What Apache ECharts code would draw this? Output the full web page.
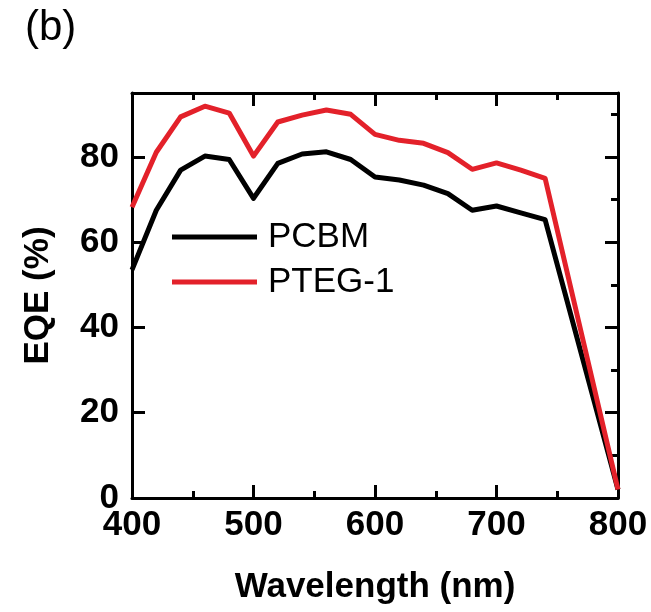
<!DOCTYPE html>
<html>
<head>
<meta charset="utf-8">
<script src="https://cdn.jsdelivr.net/npm/echarts@6/dist/echarts.min.js"></script>
<style>
  html, body { margin: 0; padding: 0; background: #fff; }
</style>
</head>
<body>
<!-- chart container, same size as the window -->
<div id="main" style="width: 651px;height:612px;"></div>
<script type="text/javascript">
    // data
    var wavelength = [400, 420, 440, 460, 480, 500, 520, 540, 560, 580, 600, 620, 640, 660, 680, 700, 720, 740, 800];
    var pcbm = [53.5, 67.5, 76.9, 80.2, 79.4, 70.3, 78.5, 80.7, 81.2, 79.4, 75.3, 74.6, 73.4, 71.4, 67.5, 68.5, 66.9, 65.3, 2];
    var pteg1 = [68.2, 81.1, 89.4, 91.9, 90.3, 80.2, 88.2, 89.8, 91.0, 90.0, 85.3, 83.9, 83.2, 81.0, 77.1, 78.6, 76.9, 75.0, 2];
    var seriesNames = ['PCBM', 'PTEG-1'];

    function pairs(xs, ys) {
        var out = [];
        for (var i = 0; i < xs.length; i++) {
            out.push([xs[i], ys[i]]);
        }
        return out;
    }

    var myChart = echarts.init(document.getElementById('main'));
    var font = '"Liberation Sans", Arial, sans-serif';
    var black = '#000';

    option = {
        animation: false,
        backgroundColor: '#fff',
        title: {
            text: '(b)',
            left: 20,
            top: 2,
            textStyle: { fontFamily: font, fontSize: 42, fontWeight: 'normal', color: black }
        },
        legend: {
            orient: 'vertical',
            left: 167,
            top: 212,
            itemWidth: 85,
            itemHeight: 5,
            itemGap: 5,
            icon: 'rect',
            data: seriesNames,
            textStyle: {
                fontFamily: font, fontSize: 35, color: black,
                lineHeight: 40, padding: [0, 0, 0, 6]
            }
        },
        grid: { left: 132, right: 33, top: 93, bottom: 114 },
        xAxis: [
            {
                type: 'value', min: 400, max: 800, interval: 100,
                name: 'Wavelength (nm)',
                nameLocation: 'middle',
                nameGap: 72,
                nameTextStyle: { fontFamily: font, fontSize: 35, fontWeight: 'bold', color: black },
                axisLine: { onZero: false, lineStyle: { color: black, width: 3 } },
                axisTick: { inside: true, length: 13, lineStyle: { color: black, width: 3 } },
                minorTick: { show: true, splitNumber: 2, length: 7, lineStyle: { color: black, width: 3 } },
                axisLabel: { margin: 10, fontFamily: font, fontSize: 35, fontWeight: 'bold', color: black },
                splitLine: { show: false }
            },
            {
                type: 'value', min: 400, max: 800, interval: 100, position: 'top',
                axisLine: { onZero: false, lineStyle: { color: black, width: 3 } },
                axisTick: { inside: true, length: 13, lineStyle: { color: black, width: 3 } },
                minorTick: { show: true, splitNumber: 2, length: 7, lineStyle: { color: black, width: 3 } },
                axisLabel: { show: false },
                splitLine: { show: false }
            }
        ],
        yAxis: [
            {
                type: 'value', min: 0, max: 95, interval: 20,
                name: 'EQE (%)',
                nameLocation: 'middle',
                nameGap: 76,
                nameTextStyle: { fontFamily: font, fontSize: 35, fontWeight: 'bold', color: black },
                axisLine: { onZero: false, lineStyle: { color: black, width: 3 } },
                axisTick: { inside: true, length: 13, lineStyle: { color: black, width: 3 } },
                axisLabel: { margin: 13, showMaxLabel: false, fontFamily: font, fontSize: 35, fontWeight: 'bold', color: black },
                splitLine: { show: false }
            },
            {
                // minor ticks on the left (every 10)
                type: 'value', min: 0, max: 95, interval: 10,
                axisLine: { show: false, onZero: false },
                axisTick: { inside: true, length: 7, lineStyle: { color: black, width: 3 } },
                axisLabel: { show: false },
                splitLine: { show: false }
            },
            {
                type: 'value', min: 0, max: 95, interval: 20, position: 'right',
                axisLine: { show: true, onZero: false, lineStyle: { color: black, width: 3 } },
                axisTick: { show: true, inside: true, length: 13, lineStyle: { color: black, width: 3 } },
                axisLabel: { show: false },
                splitLine: { show: false }
            },
            {
                type: 'value', min: 0, max: 95, interval: 10, position: 'right',
                axisLine: { show: false, onZero: false },
                axisTick: { show: true, inside: true, length: 7, lineStyle: { color: black, width: 3 } },
                axisLabel: { show: false },
                splitLine: { show: false }
            }
        ],
        series: [
            {
                name: seriesNames[0],
                type: 'line',
                showSymbol: false,
                symbol: 'none',
                color: '#000000',
                lineStyle: { width: 5, color: '#000000', join: 'round' },
                data: pairs(wavelength, pcbm)
            },
            {
                name: seriesNames[1],
                type: 'line',
                showSymbol: false,
                symbol: 'none',
                color: '#e3212a',
                lineStyle: { width: 5, color: '#e3212a', join: 'round' },
                data: pairs(wavelength, pteg1)
            }
        ]
    };
    myChart.setOption(option);
</script>
</body>
</html>
